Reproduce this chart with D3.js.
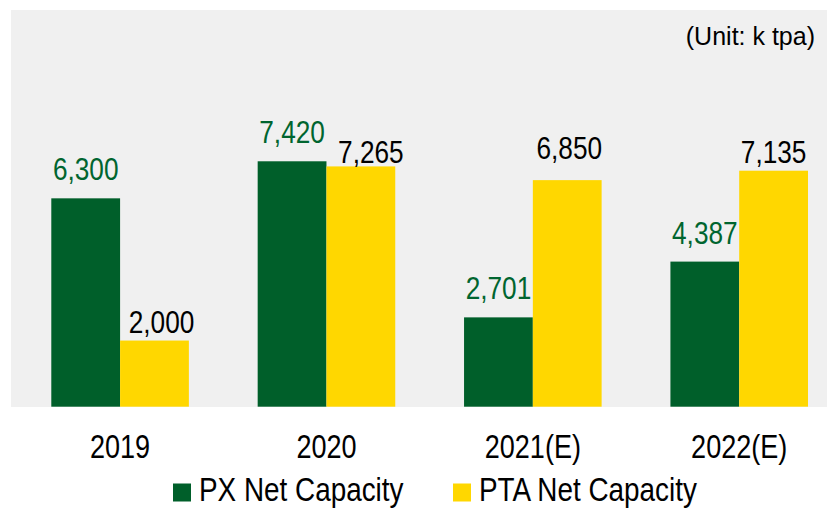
<!DOCTYPE html>
<html>
<head>
<meta charset="utf-8">
<script src="https://cdn.jsdelivr.net/npm/d3@7"></script>
<style>
  body { margin: 0; background: #ffffff; }
</style>
</head>
<body>
<div id="chart"></div>
<script>
var w = 827;
var h = 509;

// data
var years = ["2019", "2020", "2021(E)", "2022(E)"];
var pxValues = [6300, 7420, 2701, 4387];
var ptaValues = [2000, 7265, 6850, 7135];
var seriesNames = ["PX Net Capacity", "PTA Net Capacity"];

var green = "#005f2a";
var greenText = "#00652f";
var yellow = "#ffd700";
var sans = "'Liberation Sans', Arial, sans-serif";
// no narrow face installed, so squeeze Liberation Sans to Arial Narrow width
var squeeze = 0.82;

// the yellow labels are hand placed in the original
var ptaGap = [8, 3, 21, 8];
var ptaShift = [7, 10, 2, 0];
var pxGap = 18;

var svg = d3.select("#chart")
    .append("svg")
    .attr("width", w)
    .attr("height", h);

function narrowAt(x, y) {
    return "translate(" + x + "," + y + ") scale(" + squeeze + ",1)";
}

// grey plot panel
svg.append("rect")
    .attr("x", 11)
    .attr("y", 10)
    .attr("width", w - 11)
    .attr("height", 397)
    .attr("fill", "#f0f0f0");

var baseline = 406.7;

var x = d3.scaleBand()
    .domain(years)
    .range([16.9, 842.4])
    .paddingInner(1 / 3)
    .paddingOuter(1 / 6);

var xSub = d3.scaleBand()
    .domain(["px", "pta"])
    .range([0, x.bandwidth()]);

var y = d3.scaleLinear()
    .domain([0, 8000])
    .range([baseline, baseline - 264.6]);

var rows = years.map(function (yr, i) {
    return { year: yr, px: pxValues[i], pta: ptaValues[i], i: i };
});

var groups = svg.selectAll("g.year")
    .data(rows)
    .join("g")
    .attr("class", "year")
    .attr("transform", function (d) { return "translate(" + x(d.year) + ",0)"; });

groups.append("rect")
    .attr("x", xSub("px"))
    .attr("y", function (d) { return y(d.px); })
    .attr("width", xSub.bandwidth())
    .attr("height", function (d) { return baseline - y(d.px); })
    .attr("fill", green);

groups.append("rect")
    .attr("x", xSub("pta"))
    .attr("y", function (d) { return y(d.pta); })
    .attr("width", xSub.bandwidth())
    .attr("height", function (d) { return baseline - y(d.pta); })
    .attr("fill", yellow);

var fmt = d3.format(",");

groups.append("text")
    .attr("transform", function (d) {
        return narrowAt(xSub("px") + xSub.bandwidth() / 2, y(d.px) - pxGap);
    })
    .attr("text-anchor", "middle")
    .attr("font-family", sans)
    .attr("font-size", "32px")
    .attr("fill", greenText)
    .text(function (d) { return fmt(d.px); });

groups.append("text")
    .attr("transform", function (d) {
        return narrowAt(xSub("pta") + xSub.bandwidth() / 2 + ptaShift[d.i], y(d.pta) - ptaGap[d.i]);
    })
    .attr("text-anchor", "middle")
    .attr("font-family", sans)
    .attr("font-size", "32px")
    .attr("fill", "#000000")
    .text(function (d) { return fmt(d.pta); });

// category labels
groups.append("text")
    .attr("transform", narrowAt(x.bandwidth() / 2, 458))
    .attr("text-anchor", "middle")
    .attr("font-family", sans)
    .attr("font-size", "33px")
    .attr("fill", "#000000")
    .text(function (d) { return d.year; });

// unit note
svg.append("text")
    .attr("x", 815)
    .attr("y", 45)
    .attr("text-anchor", "end")
    .attr("font-family", sans)
    .attr("font-size", "25px")
    .attr("fill", "#000000")
    .text("(Unit: k tpa)");

// legend
var legendX = [173, 453];
var legendColors = [green, yellow];

var legend = svg.selectAll("g.legend")
    .data(seriesNames)
    .join("g")
    .attr("class", "legend")
    .attr("transform", function (d, i) { return "translate(" + legendX[i] + ",483.5)"; });

legend.append("rect")
    .attr("width", 18)
    .attr("height", 18)
    .attr("fill", function (d, i) { return legendColors[i]; });

legend.append("text")
    .attr("transform", narrowAt(26, 17.5))
    .attr("font-family", sans)
    .attr("font-size", "34px")
    .attr("fill", "#000000")
    .text(function (d) { return d; });
</script>
</body>
</html>
